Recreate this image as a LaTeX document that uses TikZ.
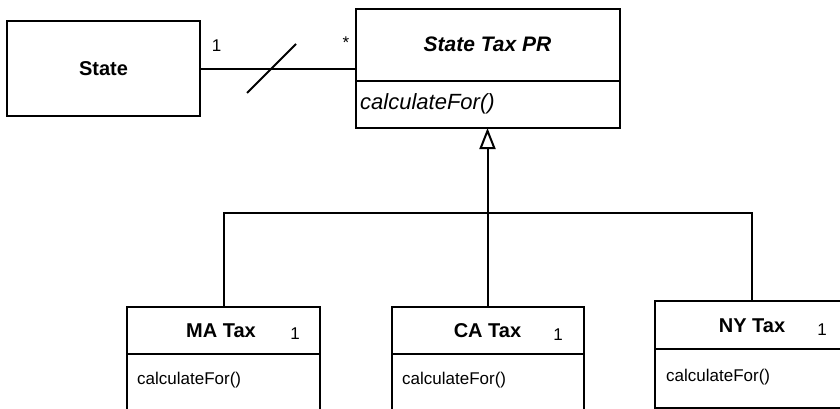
\documentclass[tikz,border=0pt]{standalone}
\usepackage{fontspec}
\setmainfont{Liberation Sans}
\usetikzlibrary{arrows.meta}
\tikzset{
  box/.style={draw, line width=2pt, inner sep=0pt, outer sep=0pt},
  ln/.style={line width=2pt},
  ttl/.style={anchor=base, inner sep=0pt, font=\fontsize{20}{20}\selectfont\bfseries},
  mth/.style={anchor=base west, inner sep=0pt, font=\fontsize{17}{17}\selectfont},
  mult/.style={anchor=base, inner sep=0pt, font=\fontsize{17}{17}\selectfont},
}
\begin{document}
\begin{tikzpicture}[x=1pt,y=-1pt]
\clip (0,0) rectangle (840,409);
\fill[white] (0,0) rectangle (840,409);
% boxes
\node[box, minimum width=193pt, minimum height=95pt] (state) at (103.5,69) {};
\node[box, minimum width=264pt, minimum height=119pt] (stpr) at (487.5,68.5) {};
\node[box, minimum width=193pt, minimum height=153pt] (ma) at (223.5,383.5) {};
\node[box, minimum width=192pt, minimum height=153pt] (ca) at (487.5,383.5) {};
\node[box, minimum width=193pt, minimum height=107pt] (ny) at (751.5,354.5) {};
% dividers
\draw[ln] (355,81) -- (620,81);
\draw[ln] (127,354) -- (320,354);
\draw[ln] (391.5,354) -- (583.5,354);
\draw[ln] (655,349) -- (848,349);
% texts
\node[ttl] (statet) at (103.5,76) {State};
\node[ttl, font=\fontsize{21}{21}\selectfont\bfseries\itshape] (stprt) at (487.5,52) {State Tax PR};
\node[mth, font=\fontsize{22}{22}\selectfont\itshape] (stprm) at (360,110) {calculateFor()};
\node[ttl] (mat) at (221,337) {MA Tax};
\node[ttl] (cat) at (487.5,337) {CA Tax};
\node[ttl] (nyt) at (752,332) {NY Tax};
\node[mth] (mam) at (137,384) {calculateFor()};
\node[mth] (cam) at (402,384) {calculateFor()};
\node[mth] (nym) at (666,381) {calculateFor()};
\node[mult] (m1) at (295,339) {1};
\node[mult] (m2) at (558,340) {1};
\node[mult] (m3) at (822,335) {1};
\node[mult] (s1l) at (216.5,52) {1};
\node[mult] (s2l) at (346,49) {*};
% association
\draw[ln] (state.east) -- (state.east -| stpr.west);
\coordinate (sa) at (247,93);
\coordinate (sb) at (296,44);
\draw[ln] (sa) -- (sb);
% generalization
\coordinate (j) at (487.5,213);
\draw[ln, -{Triangle[open, length=21pt, width=16pt]}] (j) -- (stpr.south);
\draw[ln] (ma.north) |- (ny.north |- j) -- (ny.north);
\draw[ln] (ca.north) -- (j);
\end{tikzpicture}
\end{document}
